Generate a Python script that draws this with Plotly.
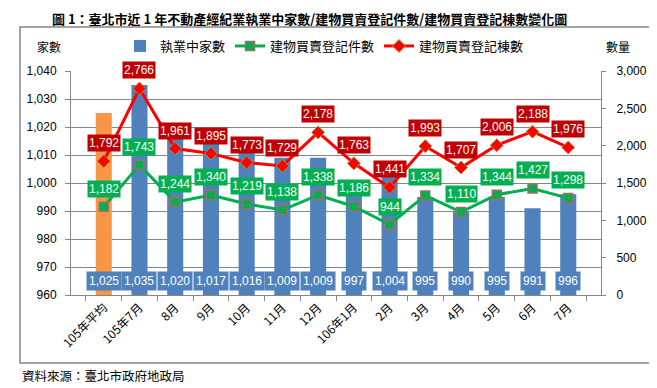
import plotly.graph_objects as go

categories = ["105年平均", "105年7月", "8月", "9月", "10月", "11月", "12月",
              "106年1月", "2月", "3月", "4月", "5月", "6月", "7月"]
firms = [1025, 1035, 1020, 1017, 1016, 1009, 1009, 997, 1004, 995, 990, 995, 991, 996]
cases = [1182, 1743, 1244, 1340, 1219, 1138, 1338, 1186, 944, 1334, 1110, 1344, 1427, 1298]
units = [1792, 2766, 1961, 1895, 1773, 1729, 2178, 1763, 1441, 1993, 1707, 2006, 2188, 1976]
left_ticks = list(range(960, 1041, 10))
right_ticks = list(range(0, 3001, 500))

W, H = 657, 388
L, R, T, B = 63, 593, 63, 287

def fx(p):
    return (p - L) / (R - L)

def fy(p):
    return (B - p) / (B - T)

BLUE = "#4F81BD"
ORANGE = "#F79646"
GREEN = "#00B050"
RED = "#FF0000"
DRED = "#C00000"
GRAY = "#868686"
CJK = "Noto Sans CJK TC"
NUM = "Liberation Sans Narrow, Liberation Sans, Arial"

avg_vals = [firms[0]] + [None] * (len(firms) - 1)
month_vals = [None] + firms[1:]

fig = go.Figure()
fig.add_trace(go.Bar(x=categories, y=month_vals, name="執業中家數",
                     marker=dict(color=BLUE, line=dict(width=0)),
                     width=0.45, yaxis="y"))
fig.add_trace(go.Bar(x=categories, y=avg_vals, name="105年平均", showlegend=False,
                     marker=dict(color=ORANGE, line=dict(width=0)),
                     width=0.45, yaxis="y"))
fig.add_trace(go.Scatter(x=categories, y=cases, name="建物買賣登記件數", yaxis="y2",
                         mode="lines+markers",
                         line=dict(color=GREEN, width=3),
                         marker=dict(symbol="square", size=9, color=GREEN,
                                     line=dict(color="#9C7060", width=1.5))))
fig.add_trace(go.Scatter(x=categories, y=units, name="建物買賣登記棟數", yaxis="y2",
                         mode="lines+markers",
                         line=dict(color=RED, width=3),
                         marker=dict(symbol="diamond", size=10, color=RED,
                                     line=dict(color="#A09A40", width=1))))

annotations = []
for c, v in zip(categories, firms):
    annotations.append(dict(x=c, y=965, xref="x", yref="y", text=f"{v:,}",
                            xanchor="center", yanchor="middle",
                            showarrow=False, bgcolor=BLUE, borderpad=2,
                            font=dict(family=NUM, size=12, color="white")))
for c, v in zip(categories, cases):
    annotations.append(dict(x=c, y=v, xref="x", yref="y2", text=f"{v:,}",
                            xanchor="center", yanchor="middle",
                            showarrow=False, bgcolor=GREEN, borderpad=1, yshift=18,
                            font=dict(family=NUM, size=12, color="white")))
for c, v in zip(categories, units):
    annotations.append(dict(x=c, y=v, xref="x", yref="y2", text=f"{v:,}",
                            xanchor="center", yanchor="middle",
                            showarrow=False, bgcolor=DRED, borderpad=1, yshift=18,
                            font=dict(family=NUM, size=12, color="white")))

def paper_text(px, py, text, size, anchor="center"):
    return dict(x=fx(px), y=fy(py), xref="paper", yref="paper", text=text,
                xanchor=anchor, yanchor="middle", showarrow=False,
                font=dict(family=CJK, size=size, color="black"))

annotations.append(paper_text(301, 11,
    "<b>圖 1：臺北市近 1 年不動產經紀業執業中家數/建物買賣登記件數/建物買賣登記棟數變化圖</b>", 13))
annotations.append(paper_text(41, 38, "家數", 12))
annotations.append(paper_text(610, 38, "數量", 12))
annotations.append(paper_text(12, 367, "資料來源：臺北市政府地政局", 12.5, anchor="left"))

shapes = [dict(type="rect", xref="paper", yref="paper",
               x0=fx(12), x1=fx(643), y0=fy(355), y1=fy(19),
               line=dict(color=GRAY, width=1.5), layer="below")]

fig.update_layout(
    width=W, height=H,
    margin=dict(l=L, r=W - R, t=T, b=H - B, pad=0, autoexpand=False),
    paper_bgcolor="white", plot_bgcolor="white",
    font=dict(family=CJK, size=12, color="black"),
    showlegend=True,
    barmode="overlay",
    legend=dict(orientation="h", x=fx(112), y=fy(38), xanchor="left", yanchor="middle",
                font=dict(family=CJK, size=13), bgcolor="rgba(0,0,0,0)",
                itemwidth=30, tracegroupgap=0),
    xaxis=dict(type="category", showline=True, linecolor=GRAY, linewidth=1,
               ticks="outside", tickson="boundaries", ticklen=5, tickcolor=GRAY,
               tickangle=-45, showgrid=False, automargin=False,
               tickfont=dict(family=CJK, size=12, color="black")),
    yaxis=dict(range=[960, 1040], tickvals=left_ticks,
               ticktext=[f"{v:,}" for v in left_ticks],
               showline=True, linecolor=GRAY, linewidth=1,
               ticks="outside", ticklen=5, tickcolor=GRAY,
               showgrid=True, gridcolor=GRAY, gridwidth=1, zeroline=False,
               ticklabelstandoff=6, automargin=False,
               tickfont=dict(family="Liberation Sans", size=12, color="black")),
    yaxis2=dict(range=[0, 3000], tickvals=right_ticks,
                ticktext=[f"{v:,}" for v in right_ticks],
                overlaying="y", side="right",
                showline=True, linecolor=GRAY, linewidth=1,
                ticks="outside", ticklen=4, tickcolor=GRAY,
                showgrid=False, zeroline=False, ticklabelstandoff=8, automargin=False,
                tickfont=dict(family="Liberation Sans", size=12, color="black")),
    annotations=annotations,
    shapes=shapes,
)

fig.write_html("out.html")
